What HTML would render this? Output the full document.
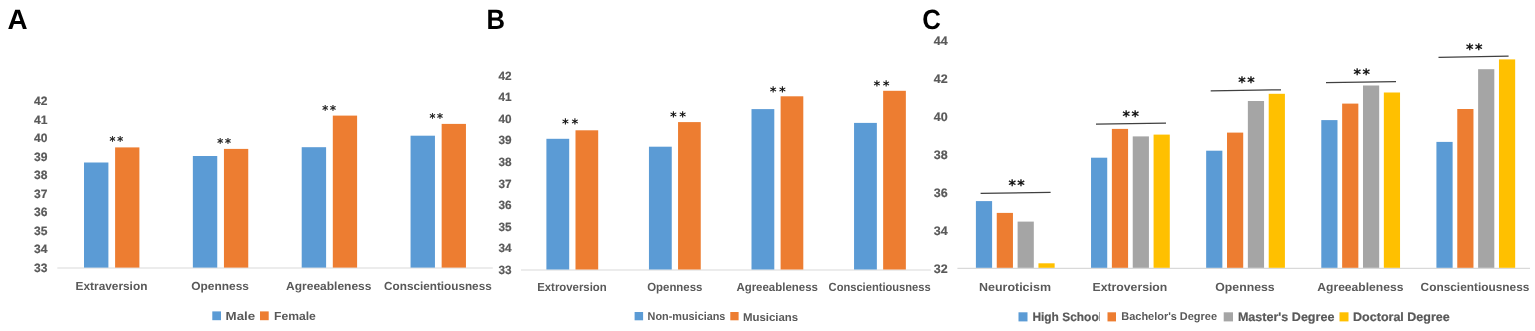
<!DOCTYPE html>
<html><head><meta charset="utf-8"><title>Figure</title>
<style>
html,body{margin:0;padding:0;background:#fff;}
svg{display:block;}
text{white-space:pre;text-rendering:geometricPrecision;}
</style></head>
<body>
<svg width="1535" height="331" viewBox="0 0 1535 331">
<rect x="0" y="0" width="1535" height="331" fill="#ffffff"/>
<text x="7.40" y="29.20" font-size="27.85" text-anchor="start" fill="#000" font-weight="bold" font-family='"Liberation Sans", sans-serif'>A</text>
<text x="486.40" y="29.10" font-size="27.85" text-anchor="start" fill="#000" font-weight="bold" font-family='"Liberation Sans", sans-serif' textLength="18.50" lengthAdjust="spacingAndGlyphs">B</text>
<text x="922.20" y="28.60" font-size="27.85" text-anchor="start" fill="#000" font-weight="bold" font-family='"Liberation Sans", sans-serif' textLength="18.60" lengthAdjust="spacingAndGlyphs">C</text>
<text x="34.10" y="272.00" font-size="12.1" text-anchor="start" fill="#595959" font-weight="bold" font-family='"Liberation Sans", sans-serif' textLength="13.40" lengthAdjust="spacingAndGlyphs" stroke="#595959" stroke-width="0.2">33</text>
<text x="34.10" y="253.48" font-size="12.1" text-anchor="start" fill="#595959" font-weight="bold" font-family='"Liberation Sans", sans-serif' textLength="13.40" lengthAdjust="spacingAndGlyphs" stroke="#595959" stroke-width="0.2">34</text>
<text x="34.10" y="234.96" font-size="12.1" text-anchor="start" fill="#595959" font-weight="bold" font-family='"Liberation Sans", sans-serif' textLength="13.40" lengthAdjust="spacingAndGlyphs" stroke="#595959" stroke-width="0.2">35</text>
<text x="34.10" y="216.44" font-size="12.1" text-anchor="start" fill="#595959" font-weight="bold" font-family='"Liberation Sans", sans-serif' textLength="13.40" lengthAdjust="spacingAndGlyphs" stroke="#595959" stroke-width="0.2">36</text>
<text x="34.10" y="197.92" font-size="12.1" text-anchor="start" fill="#595959" font-weight="bold" font-family='"Liberation Sans", sans-serif' textLength="13.40" lengthAdjust="spacingAndGlyphs" stroke="#595959" stroke-width="0.2">37</text>
<text x="34.10" y="179.40" font-size="12.1" text-anchor="start" fill="#595959" font-weight="bold" font-family='"Liberation Sans", sans-serif' textLength="13.40" lengthAdjust="spacingAndGlyphs" stroke="#595959" stroke-width="0.2">38</text>
<text x="34.10" y="160.88" font-size="12.1" text-anchor="start" fill="#595959" font-weight="bold" font-family='"Liberation Sans", sans-serif' textLength="13.40" lengthAdjust="spacingAndGlyphs" stroke="#595959" stroke-width="0.2">39</text>
<text x="34.10" y="142.36" font-size="12.1" text-anchor="start" fill="#595959" font-weight="bold" font-family='"Liberation Sans", sans-serif' textLength="13.40" lengthAdjust="spacingAndGlyphs" stroke="#595959" stroke-width="0.2">40</text>
<text x="34.10" y="123.84" font-size="12.1" text-anchor="start" fill="#595959" font-weight="bold" font-family='"Liberation Sans", sans-serif' textLength="13.40" lengthAdjust="spacingAndGlyphs" stroke="#595959" stroke-width="0.2">41</text>
<text x="34.10" y="105.32" font-size="12.1" text-anchor="start" fill="#595959" font-weight="bold" font-family='"Liberation Sans", sans-serif' textLength="13.40" lengthAdjust="spacingAndGlyphs" stroke="#595959" stroke-width="0.2">42</text>
<line x1="57.30" y1="268.00" x2="492.80" y2="268.00" stroke="#D9D9D9" stroke-width="1.2"/>
<rect x="84.00" y="162.50" width="24.40" height="105.10" fill="#5B9BD5"/>
<rect x="115.10" y="147.40" width="24.30" height="120.20" fill="#ED7D31"/>
<rect x="192.85" y="156.00" width="24.40" height="111.60" fill="#5B9BD5"/>
<rect x="223.95" y="148.90" width="24.30" height="118.70" fill="#ED7D31"/>
<rect x="301.70" y="147.20" width="24.40" height="120.40" fill="#5B9BD5"/>
<rect x="332.80" y="115.60" width="24.30" height="152.00" fill="#ED7D31"/>
<rect x="410.55" y="135.70" width="24.40" height="131.90" fill="#5B9BD5"/>
<rect x="441.65" y="123.90" width="24.30" height="143.70" fill="#ED7D31"/>
<text x="112.50 120.20" y="145.01" font-size="11.8" text-anchor="middle" fill="#111" font-weight="normal" font-family='"DejaVu Sans", sans-serif' stroke="#111" stroke-width="0.3">**</text>
<text x="220.15 227.85" y="147.16" font-size="11.8" text-anchor="middle" fill="#111" font-weight="normal" font-family='"DejaVu Sans", sans-serif' stroke="#111" stroke-width="0.3">**</text>
<text x="325.15 332.85" y="113.56" font-size="11.8" text-anchor="middle" fill="#111" font-weight="normal" font-family='"DejaVu Sans", sans-serif' stroke="#111" stroke-width="0.3">**</text>
<text x="432.35 440.05" y="121.86" font-size="11.8" text-anchor="middle" fill="#111" font-weight="normal" font-family='"DejaVu Sans", sans-serif' stroke="#111" stroke-width="0.3">**</text>
<text x="75.60" y="289.90" font-size="11.7" text-anchor="start" fill="#595959" font-weight="bold" font-family='"Liberation Sans", sans-serif' textLength="71.80" lengthAdjust="spacingAndGlyphs">Extraversion</text>
<text x="191.30" y="289.90" font-size="11.7" text-anchor="start" fill="#595959" font-weight="bold" font-family='"Liberation Sans", sans-serif' textLength="57.70" lengthAdjust="spacingAndGlyphs">Openness</text>
<text x="286.10" y="289.90" font-size="11.7" text-anchor="start" fill="#595959" font-weight="bold" font-family='"Liberation Sans", sans-serif' textLength="85.30" lengthAdjust="spacingAndGlyphs">Agreeableness</text>
<text x="384.10" y="289.90" font-size="11.7" text-anchor="start" fill="#595959" font-weight="bold" font-family='"Liberation Sans", sans-serif' textLength="107.60" lengthAdjust="spacingAndGlyphs">Conscientiousness</text>
<rect x="212.30" y="311.40" width="8.70" height="8.80" fill="#5B9BD5"/>
<text x="225.60" y="320.45" font-size="11.8" text-anchor="start" fill="#595959" font-weight="bold" font-family='"Liberation Sans", sans-serif' textLength="29.60" lengthAdjust="spacingAndGlyphs">Male</text>
<rect x="260.00" y="311.40" width="8.70" height="8.80" fill="#ED7D31"/>
<text x="274.00" y="320.45" font-size="11.8" text-anchor="start" fill="#595959" font-weight="bold" font-family='"Liberation Sans", sans-serif' textLength="41.80" lengthAdjust="spacingAndGlyphs">Female</text>
<text x="498.55" y="274.00" font-size="11.9" text-anchor="start" fill="#595959" font-weight="bold" font-family='"Liberation Sans", sans-serif' textLength="13.10" lengthAdjust="spacingAndGlyphs" stroke="#595959" stroke-width="0.2">33</text>
<text x="498.55" y="252.41" font-size="11.9" text-anchor="start" fill="#595959" font-weight="bold" font-family='"Liberation Sans", sans-serif' textLength="13.10" lengthAdjust="spacingAndGlyphs" stroke="#595959" stroke-width="0.2">34</text>
<text x="498.55" y="230.82" font-size="11.9" text-anchor="start" fill="#595959" font-weight="bold" font-family='"Liberation Sans", sans-serif' textLength="13.10" lengthAdjust="spacingAndGlyphs" stroke="#595959" stroke-width="0.2">35</text>
<text x="498.55" y="209.23" font-size="11.9" text-anchor="start" fill="#595959" font-weight="bold" font-family='"Liberation Sans", sans-serif' textLength="13.10" lengthAdjust="spacingAndGlyphs" stroke="#595959" stroke-width="0.2">36</text>
<text x="498.55" y="187.64" font-size="11.9" text-anchor="start" fill="#595959" font-weight="bold" font-family='"Liberation Sans", sans-serif' textLength="13.10" lengthAdjust="spacingAndGlyphs" stroke="#595959" stroke-width="0.2">37</text>
<text x="498.55" y="166.05" font-size="11.9" text-anchor="start" fill="#595959" font-weight="bold" font-family='"Liberation Sans", sans-serif' textLength="13.10" lengthAdjust="spacingAndGlyphs" stroke="#595959" stroke-width="0.2">38</text>
<text x="498.55" y="144.46" font-size="11.9" text-anchor="start" fill="#595959" font-weight="bold" font-family='"Liberation Sans", sans-serif' textLength="13.10" lengthAdjust="spacingAndGlyphs" stroke="#595959" stroke-width="0.2">39</text>
<text x="498.55" y="122.87" font-size="11.9" text-anchor="start" fill="#595959" font-weight="bold" font-family='"Liberation Sans", sans-serif' textLength="13.10" lengthAdjust="spacingAndGlyphs" stroke="#595959" stroke-width="0.2">40</text>
<text x="498.55" y="101.28" font-size="11.9" text-anchor="start" fill="#595959" font-weight="bold" font-family='"Liberation Sans", sans-serif' textLength="13.10" lengthAdjust="spacingAndGlyphs" stroke="#595959" stroke-width="0.2">41</text>
<text x="498.55" y="79.69" font-size="11.9" text-anchor="start" fill="#595959" font-weight="bold" font-family='"Liberation Sans", sans-serif' textLength="13.10" lengthAdjust="spacingAndGlyphs" stroke="#595959" stroke-width="0.2">42</text>
<line x1="521.00" y1="270.00" x2="930.80" y2="270.00" stroke="#D9D9D9" stroke-width="1.2"/>
<rect x="546.40" y="138.80" width="22.80" height="130.70" fill="#5B9BD5"/>
<rect x="575.50" y="130.30" width="22.70" height="139.20" fill="#ED7D31"/>
<rect x="648.95" y="146.70" width="22.80" height="122.80" fill="#5B9BD5"/>
<rect x="678.05" y="122.10" width="22.70" height="147.40" fill="#ED7D31"/>
<rect x="751.50" y="109.10" width="22.80" height="160.40" fill="#5B9BD5"/>
<rect x="780.60" y="96.30" width="22.70" height="173.20" fill="#ED7D31"/>
<rect x="854.05" y="122.90" width="22.80" height="146.60" fill="#5B9BD5"/>
<rect x="883.15" y="90.80" width="22.70" height="178.70" fill="#ED7D31"/>
<text x="565.50 574.80" y="128.13" font-size="13.0" text-anchor="middle" fill="#111" font-weight="bold" font-family='"DejaVu Sans", sans-serif'>**</text>
<text x="673.35 682.65" y="120.73" font-size="13.0" text-anchor="middle" fill="#111" font-weight="bold" font-family='"DejaVu Sans", sans-serif'>**</text>
<text x="773.20 782.50" y="95.73" font-size="13.0" text-anchor="middle" fill="#111" font-weight="bold" font-family='"DejaVu Sans", sans-serif'>**</text>
<text x="876.95 886.25" y="90.43" font-size="13.0" text-anchor="middle" fill="#111" font-weight="bold" font-family='"DejaVu Sans", sans-serif'>**</text>
<text x="537.20" y="290.80" font-size="11.8" text-anchor="start" fill="#595959" font-weight="bold" font-family='"Liberation Sans", sans-serif' textLength="69.50" lengthAdjust="spacingAndGlyphs">Extroversion</text>
<text x="647.20" y="290.80" font-size="11.8" text-anchor="start" fill="#595959" font-weight="bold" font-family='"Liberation Sans", sans-serif' textLength="55.20" lengthAdjust="spacingAndGlyphs">Openness</text>
<text x="736.40" y="290.80" font-size="11.8" text-anchor="start" fill="#595959" font-weight="bold" font-family='"Liberation Sans", sans-serif' textLength="81.50" lengthAdjust="spacingAndGlyphs">Agreeableness</text>
<text x="828.60" y="290.80" font-size="11.8" text-anchor="start" fill="#595959" font-weight="bold" font-family='"Liberation Sans", sans-serif' textLength="102.10" lengthAdjust="spacingAndGlyphs">Conscientiousness</text>
<rect x="634.60" y="312.00" width="8.50" height="8.30" fill="#5B9BD5"/>
<text x="647.60" y="320.30" font-size="11.3" text-anchor="start" fill="#595959" font-weight="bold" font-family='"Liberation Sans", sans-serif' textLength="77.80" lengthAdjust="spacingAndGlyphs">Non-musicians</text>
<rect x="730.30" y="312.00" width="8.30" height="8.30" fill="#ED7D31"/>
<text x="742.90" y="320.50" font-size="11.2" text-anchor="start" fill="#595959" font-weight="bold" font-family='"Liberation Sans", sans-serif' textLength="55.30" lengthAdjust="spacingAndGlyphs">Musicians</text>
<text x="933.85" y="273.30" font-size="12.3" text-anchor="start" fill="#595959" font-weight="bold" font-family='"Liberation Sans", sans-serif' textLength="13.90" lengthAdjust="spacingAndGlyphs" stroke="#595959" stroke-width="0.2">32</text>
<text x="933.85" y="235.27" font-size="12.3" text-anchor="start" fill="#595959" font-weight="bold" font-family='"Liberation Sans", sans-serif' textLength="13.90" lengthAdjust="spacingAndGlyphs" stroke="#595959" stroke-width="0.2">34</text>
<text x="933.85" y="197.24" font-size="12.3" text-anchor="start" fill="#595959" font-weight="bold" font-family='"Liberation Sans", sans-serif' textLength="13.90" lengthAdjust="spacingAndGlyphs" stroke="#595959" stroke-width="0.2">36</text>
<text x="933.85" y="159.21" font-size="12.3" text-anchor="start" fill="#595959" font-weight="bold" font-family='"Liberation Sans", sans-serif' textLength="13.90" lengthAdjust="spacingAndGlyphs" stroke="#595959" stroke-width="0.2">38</text>
<text x="933.85" y="121.18" font-size="12.3" text-anchor="start" fill="#595959" font-weight="bold" font-family='"Liberation Sans", sans-serif' textLength="13.90" lengthAdjust="spacingAndGlyphs" stroke="#595959" stroke-width="0.2">40</text>
<text x="933.85" y="83.15" font-size="12.3" text-anchor="start" fill="#595959" font-weight="bold" font-family='"Liberation Sans", sans-serif' textLength="13.90" lengthAdjust="spacingAndGlyphs" stroke="#595959" stroke-width="0.2">42</text>
<text x="933.85" y="45.12" font-size="12.3" text-anchor="start" fill="#595959" font-weight="bold" font-family='"Liberation Sans", sans-serif' textLength="13.90" lengthAdjust="spacingAndGlyphs" stroke="#595959" stroke-width="0.2">44</text>
<line x1="957.40" y1="268.30" x2="1530.00" y2="268.30" stroke="#D9D9D9" stroke-width="1.2"/>
<rect x="975.90" y="201.10" width="16.20" height="66.70" fill="#5B9BD5"/>
<rect x="996.75" y="212.90" width="16.20" height="54.90" fill="#ED7D31"/>
<rect x="1017.60" y="221.60" width="16.20" height="46.20" fill="#A5A5A5"/>
<rect x="1038.45" y="263.30" width="16.20" height="4.50" fill="#FFC000"/>
<rect x="1091.03" y="157.70" width="16.20" height="110.10" fill="#5B9BD5"/>
<rect x="1111.88" y="128.90" width="16.20" height="138.90" fill="#ED7D31"/>
<rect x="1132.73" y="136.40" width="16.20" height="131.40" fill="#A5A5A5"/>
<rect x="1153.58" y="134.60" width="16.20" height="133.20" fill="#FFC000"/>
<rect x="1206.16" y="150.70" width="16.20" height="117.10" fill="#5B9BD5"/>
<rect x="1227.01" y="132.60" width="16.20" height="135.20" fill="#ED7D31"/>
<rect x="1247.86" y="101.00" width="16.20" height="166.80" fill="#A5A5A5"/>
<rect x="1268.71" y="93.80" width="16.20" height="174.00" fill="#FFC000"/>
<rect x="1321.29" y="120.10" width="16.20" height="147.70" fill="#5B9BD5"/>
<rect x="1342.14" y="103.60" width="16.20" height="164.20" fill="#ED7D31"/>
<rect x="1362.99" y="85.50" width="16.20" height="182.30" fill="#A5A5A5"/>
<rect x="1383.84" y="92.50" width="16.20" height="175.30" fill="#FFC000"/>
<rect x="1436.42" y="141.90" width="16.20" height="125.90" fill="#5B9BD5"/>
<rect x="1457.27" y="109.00" width="16.20" height="158.80" fill="#ED7D31"/>
<rect x="1478.12" y="69.20" width="16.20" height="198.60" fill="#A5A5A5"/>
<rect x="1498.97" y="59.40" width="16.20" height="208.40" fill="#FFC000"/>
<line x1="980.60" y1="193.30" x2="1050.60" y2="192.40" stroke="#404040" stroke-width="1.3"/>
<line x1="1096.00" y1="124.20" x2="1166.00" y2="123.10" stroke="#404040" stroke-width="1.3"/>
<line x1="1210.70" y1="90.80" x2="1281.00" y2="89.80" stroke="#404040" stroke-width="1.3"/>
<line x1="1326.00" y1="82.60" x2="1396.00" y2="81.70" stroke="#404040" stroke-width="1.3"/>
<line x1="1438.50" y1="57.40" x2="1508.60" y2="56.20" stroke="#404040" stroke-width="1.3"/>
<text x="1012.15 1021.05" y="189.60" font-size="14.2" text-anchor="middle" fill="#111" font-weight="bold" font-family='"DejaVu Sans", sans-serif' stroke="#111" stroke-width="0.2">**</text>
<text x="1126.20 1135.10" y="120.50" font-size="14.2" text-anchor="middle" fill="#111" font-weight="bold" font-family='"DejaVu Sans", sans-serif' stroke="#111" stroke-width="0.2">**</text>
<text x="1242.00 1250.90" y="86.90" font-size="14.2" text-anchor="middle" fill="#111" font-weight="bold" font-family='"DejaVu Sans", sans-serif' stroke="#111" stroke-width="0.2">**</text>
<text x="1357.20 1366.10" y="79.40" font-size="14.2" text-anchor="middle" fill="#111" font-weight="bold" font-family='"DejaVu Sans", sans-serif' stroke="#111" stroke-width="0.2">**</text>
<text x="1469.70 1478.60" y="53.60" font-size="14.2" text-anchor="middle" fill="#111" font-weight="bold" font-family='"DejaVu Sans", sans-serif' stroke="#111" stroke-width="0.2">**</text>
<text x="979.00" y="290.90" font-size="11.8" text-anchor="start" fill="#595959" font-weight="bold" font-family='"Liberation Sans", sans-serif' textLength="72.00" lengthAdjust="spacingAndGlyphs">Neuroticism</text>
<text x="1092.60" y="290.90" font-size="11.8" text-anchor="start" fill="#595959" font-weight="bold" font-family='"Liberation Sans", sans-serif' textLength="74.70" lengthAdjust="spacingAndGlyphs">Extroversion</text>
<text x="1215.30" y="290.90" font-size="11.8" text-anchor="start" fill="#595959" font-weight="bold" font-family='"Liberation Sans", sans-serif' textLength="59.30" lengthAdjust="spacingAndGlyphs">Openness</text>
<text x="1317.30" y="290.90" font-size="11.8" text-anchor="start" fill="#595959" font-weight="bold" font-family='"Liberation Sans", sans-serif' textLength="86.10" lengthAdjust="spacingAndGlyphs">Agreeableness</text>
<text x="1420.60" y="290.90" font-size="11.8" text-anchor="start" fill="#595959" font-weight="bold" font-family='"Liberation Sans", sans-serif' textLength="108.80" lengthAdjust="spacingAndGlyphs">Conscientiousness</text>
<rect x="1018.50" y="312.30" width="9.00" height="9.10" fill="#5B9BD5"/>
<clipPath id="c1"><rect x="1030" y="300" width="70.1" height="31"/></clipPath>
<text x="1032.40" y="321.30" font-size="12.2" text-anchor="start" fill="#595959" font-weight="bold" font-family='"Liberation Sans", sans-serif' textLength="69.60" lengthAdjust="spacingAndGlyphs" clip-path="url(#c1)" stroke="#595959" stroke-width="0.2">High School</text>
<rect x="1107.50" y="312.30" width="8.50" height="9.10" fill="#ED7D31"/>
<text x="1121.30" y="320.00" font-size="11.2" text-anchor="start" fill="#595959" font-weight="bold" font-family='"Liberation Sans", sans-serif' textLength="95.70" lengthAdjust="spacingAndGlyphs">Bachelor's Degree</text>
<rect x="1223.70" y="312.30" width="9.30" height="9.10" fill="#A5A5A5"/>
<text x="1237.90" y="321.30" font-size="12.2" text-anchor="start" fill="#595959" font-weight="bold" font-family='"Liberation Sans", sans-serif' textLength="96.50" lengthAdjust="spacingAndGlyphs" stroke="#595959" stroke-width="0.2">Master's Degree</text>
<rect x="1339.50" y="312.30" width="9.00" height="9.10" fill="#FFC000"/>
<text x="1353.10" y="321.30" font-size="12.2" text-anchor="start" fill="#595959" font-weight="bold" font-family='"Liberation Sans", sans-serif' textLength="96.60" lengthAdjust="spacingAndGlyphs" stroke="#595959" stroke-width="0.2">Doctoral Degree</text>
</svg>
</body></html>
